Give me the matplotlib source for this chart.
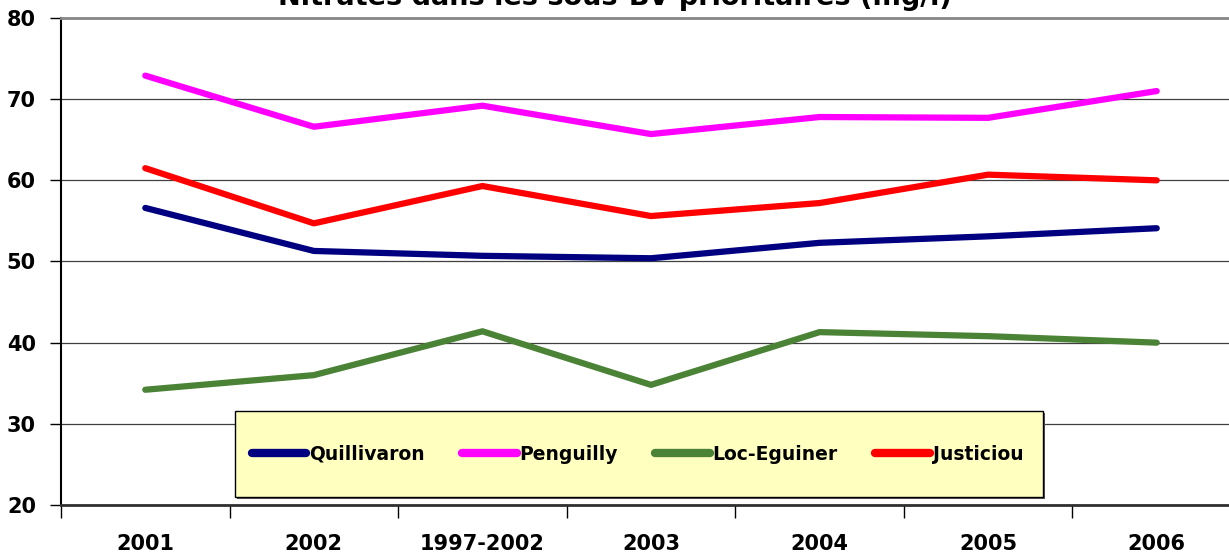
import matplotlib
matplotlib.use('Agg')
import matplotlib.pyplot as plt
from matplotlib.patches import Rectangle

# Data
CATEGORIES = ['2001', '2002', '1997-2002', '2003', '2004', '2005', '2006']
QUILLIVARON = [56.6, 51.3, 50.7, 50.4, 52.3, 53.1, 54.1]
PENGUILLY = [72.9, 66.6, 69.2, 65.7, 67.8, 67.7, 71.0]
LOC_EGUINER = [34.2, 36.0, 41.4, 34.8, 41.3, 40.8, 40.0]
JUSTICIOU = [61.5, 54.7, 59.3, 55.6, 57.2, 60.7, 60.0]

SERIES = [
    ('Quillivaron', QUILLIVARON, '#000080'),
    ('Penguilly', PENGUILLY, '#FF00FF'),
    ('Loc-Eguiner', LOC_EGUINER, '#4A8236'),
    ('Justiciou', JUSTICIOU, '#FF0000'),
]

W, H = 1229, 554
fig = plt.figure(figsize=(W / 100, H / 100), dpi=100)
fig.patch.set_facecolor('white')

# plot area runs slightly past the right edge of the picture, as in the reference
left, right, top, bottom = 61, 1241, 18, 505
ax = fig.add_axes([left / W, 1 - bottom / H, (right - left) / W, (bottom - top) / H])

x = list(range(len(CATEGORIES)))
for name, vals, color in SERIES:
    ax.plot(x, vals, color=color, linewidth=4.5, label=name,
            solid_capstyle='round', solid_joinstyle='round', zorder=3)

ax.set_xlim(-0.5, len(CATEGORIES) - 0.5)
ax.set_ylim(20, 80)
ax.set_yticks(range(20, 81, 10))
ax.set_xticks(x)
ax.set_xticklabels(CATEGORIES)
ax.set_xticks([i - 0.5 for i in range(len(CATEGORIES) + 1)], minor=True)

ax.yaxis.grid(True, color='#404040', linewidth=0.9)
ax.set_axisbelow(True)

for lab in ax.get_xticklabels() + ax.get_yticklabels():
    lab.set_fontweight('bold')
    lab.set_fontsize(15)

ax.tick_params(axis='x', which='major', length=0, pad=21)
ax.tick_params(axis='x', which='minor', length=9, width=1, color='black', direction='out')
ax.tick_params(axis='y', length=8, width=1, color='black', direction='out', pad=10)

ax.spines['right'].set_visible(False)
ax.spines['top'].set_color('#888888')
ax.spines['top'].set_linewidth(2)
ax.spines['left'].set_linewidth(1.5)
ax.spines['bottom'].set_linewidth(2)
ax.spines['bottom'].set_color('#303030')

# title, partly cut off at the top like the reference
fig.text(615 / W, 1 - 5 / H, 'Nitrates dans les sous-BV prioritaires (mg/l)',
         ha='center', va='baseline', fontsize=19.5, fontweight='bold')

# legend box
bx0, bx1, by0, by1 = 235, 1043, 411, 497
fig.patches.append(Rectangle((bx0 / W + 2 / W, 1 - by1 / H - 2 / H), (bx1 - bx0) / W, (by1 - by0) / H,
                             transform=fig.transFigure, facecolor='#555555',
                             edgecolor='none', zorder=1))
fig.patches.append(Rectangle((bx0 / W, 1 - by1 / H), (bx1 - bx0) / W, (by1 - by0) / H,
                             transform=fig.transFigure, facecolor='#FFFFC0',
                             edgecolor='black', linewidth=1, zorder=1.1))

leg = fig.legend(loc='center', bbox_to_anchor=(637.5 / W, 1 - 454 / H), ncol=4,
                 frameon=False, handlelength=2.9, handletextpad=0.15,
                 columnspacing=2.0, prop={'weight': 'bold', 'size': 13.5})
for h in leg.get_lines():
    h.set_linewidth(6)
    h.set_solid_capstyle('round')

fig.savefig('out.png', dpi=100)
